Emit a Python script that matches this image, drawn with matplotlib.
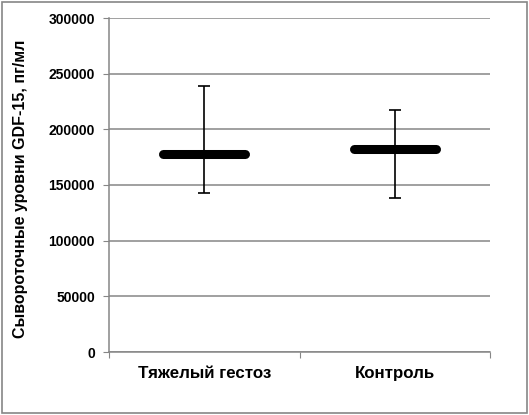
import matplotlib.pyplot as plt
import matplotlib.patheffects as pe

# Data
groups = ['Тяжелый гестоз', 'Контроль']
medians = [178000, 182000]
upper = [239000, 217000]
lower = [143000, 138000]

plt.rcParams['font.family'] = ['Liberation Sans', 'DejaVu Sans']

fig = plt.figure(figsize=(5.29, 4.15), dpi=100)
ax = fig.add_axes([109 / 529, 1 - 352 / 415, 381 / 529, 334 / 415])

# outer border of the chart
fig.patches.append(plt.Rectangle((0.003, 0.004), 0.993, 0.99, transform=fig.transFigure,
                                 fill=False, edgecolor='#868686', linewidth=1.2))

x = list(range(len(groups)))
yerr = [[m - lo for m, lo in zip(medians, lower)], [up - m for m, up in zip(medians, upper)]]
ax.errorbar(x, medians, yerr=yerr, fmt='none', ecolor='black', elinewidth=1.2,
            capsize=4, capthick=1.2, zorder=3)
ax.hlines(medians, [i - 0.215 for i in x], [i + 0.215 for i in x], colors='black',
          linewidth=6.5, capstyle='round', zorder=4,
          path_effects=[pe.SimplePatchShadow(offset=(1.5, -1.5), alpha=0.15), pe.Normal()])

ax.set_xlim(-0.5, 1.5)
ax.set_ylim(0, 300000)
ax.set_yticks(range(0, 300001, 50000))
ax.set_yticklabels([str(v) for v in range(0, 300001, 50000)], fontsize=10, fontweight='bold')
ax.yaxis.grid(True, color='#868686', linewidth=1.1)
ax.set_axisbelow(True)

ax.set_xticks([-0.5, 0.5, 1.5])
ax.set_xticklabels([])
ax.set_xticks(x, minor=True)
ax.set_xticklabels(groups, minor=True, fontsize=12.2, fontweight='bold')
ax.tick_params(axis='x', which='minor', length=0, pad=10)
ax.tick_params(axis='x', which='major', length=4, color='#868686')
ax.tick_params(axis='y', length=4, color='#868686', pad=6)

for side in ['top', 'right']:
    ax.spines[side].set_visible(False)
for side in ['left', 'bottom']:
    ax.spines[side].set_color('#868686')
    ax.spines[side].set_linewidth(1.1)

ax.set_ylabel('Сывороточные уровни GDF-15, пг/мл', fontsize=11.5, fontweight='bold')
ax.yaxis.set_label_coords(-0.212, 0.49)

fig.savefig('out.png', dpi=100)
